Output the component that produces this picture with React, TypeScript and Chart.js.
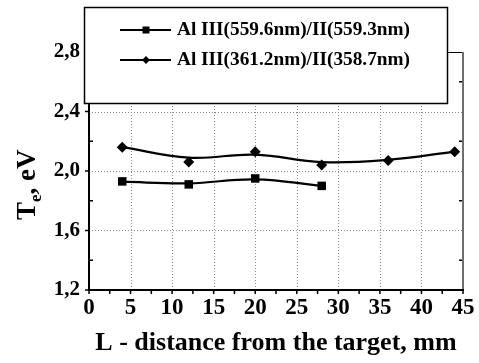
import React, { useEffect, useRef } from 'react';
import { Chart, registerables } from 'chart.js';

Chart.register(...registerables);

const FONT = '"Liberation Serif", "Times New Roman", Times, serif';

// ---- data ----
const series1Label = 'Al III(559.6nm)/II(559.3nm)';
const series1X = [4, 12, 20, 28];
const series1Values = [1.93, 1.91, 1.95, 1.9];
const series1Fit = [1.928, 1.917, 1.944, 1.9];

const series2Label = 'Al III(361.2nm)/II(358.7nm)';
const series2X = [4, 12, 20, 28, 36, 44];
const series2Values = [2.16, 2.06, 2.13, 2.04, 2.07, 2.13];
const series2Fit = [2.16, 2.09, 2.11, 2.06, 2.075, 2.13];

const xTicks = [0, 5, 10, 15, 20, 25, 30, 35, 40, 45];
const xMinorTicks = [2.5, 7.5, 12.5, 17.5, 22.5, 27.5, 32.5, 37.5, 42.5];
const yTicks = [1.2, 1.6, 2.0, 2.4, 2.8];
const yTickLabels = ['1,2', '1,6', '2,0', '2,4', '2,8'];
const yMinorTicks = [1.4, 1.8, 2.2, 2.6];

const xTitle = 'L - distance from the target, mm';

const pts = (xs: number[], ys: number[]) => xs.map((x, i) => ({ x, y: ys[i] }));

const framePlugin = {
  id: 'frame',
  beforeDatasetsDraw(chart: any) {
    const { ctx, chartArea: a, scales } = chart;
    const xs = scales.x, ys = scales.y;
    ctx.save();
    ctx.strokeStyle = '#8a8a8a';
    ctx.lineWidth = 1;
    ctx.setLineDash([1, 2]);
    xTicks.forEach((v) => {
      if (v <= xs.min || v >= xs.max) return;
      const px = Math.round(xs.getPixelForValue(v)) + 0.5;
      ctx.beginPath();
      ctx.moveTo(px, a.top);
      ctx.lineTo(px, a.bottom);
      ctx.stroke();
    });
    yTicks.forEach((v) => {
      if (v <= ys.min || v >= ys.max) return;
      const py = Math.round(ys.getPixelForValue(v)) + 0.5;
      ctx.beginPath();
      ctx.moveTo(a.left, py);
      ctx.lineTo(a.right, py);
      ctx.stroke();
    });
    ctx.restore();
  },
  afterDatasetsDraw(chart: any) {
    const { ctx, chartArea: a, scales } = chart;
    const xs = scales.x, ys = scales.y;
    ctx.save();
    ctx.setLineDash([]);
    ctx.strokeStyle = '#000';
    ctx.lineWidth = 1.5;
    [...xTicks, ...xMinorTicks].forEach((v) => {
      const px = xs.getPixelForValue(v);
      ctx.beginPath();
      ctx.moveTo(px, a.bottom);
      ctx.lineTo(px, a.bottom + 4);
      ctx.stroke();
    });
    yTicks.forEach((v) => {
      const py = ys.getPixelForValue(v);
      ctx.beginPath();
      ctx.moveTo(a.left - 4, py);
      ctx.lineTo(a.left, py);
      ctx.stroke();
    });
    yMinorTicks.forEach((v) => {
      const py = ys.getPixelForValue(v);
      ctx.beginPath();
      ctx.moveTo(a.left, py);
      ctx.lineTo(a.left + 4, py);
      ctx.stroke();
      ctx.beginPath();
      ctx.moveTo(a.right - 4, py);
      ctx.lineTo(a.right, py);
      ctx.stroke();
    });
    ctx.lineWidth = 1;
    ctx.beginPath();
    ctx.moveTo(a.left, a.top + 0.5);
    ctx.lineTo(a.right, a.top + 0.5);
    ctx.stroke();
    ctx.strokeStyle = '#6e6e6e';
    ctx.lineWidth = 2;
    ctx.beginPath();
    ctx.moveTo(a.right, a.top);
    ctx.lineTo(a.right, a.bottom);
    ctx.stroke();
    ctx.strokeStyle = '#000';
    ctx.lineWidth = 2;
    ctx.beginPath();
    ctx.moveTo(a.left, a.top);
    ctx.lineTo(a.left, a.bottom);
    ctx.lineTo(a.right + 1, a.bottom);
    ctx.stroke();
    ctx.restore();
  },
  afterDraw(chart: any) {
    const { ctx } = chart;
    ctx.save();
    ctx.fillStyle = '#fff';
    ctx.fillRect(84, 7, 364, 97);
    ctx.strokeStyle = '#000';
    ctx.lineWidth = 1.5;
    ctx.strokeRect(84.5, 7.5, 363, 96);
    const items = [
      { label: chart.data.datasets[0].label, style: 'rect', y: 30 },
      { label: chart.data.datasets[1].label, style: 'rectRot', y: 60 },
    ];
    items.forEach((it) => {
      ctx.strokeStyle = '#000';
      ctx.lineWidth = 2;
      ctx.beginPath();
      ctx.moveTo(120, it.y);
      ctx.lineTo(171, it.y);
      ctx.stroke();
      ctx.fillStyle = '#000';
      const cx = 146;
      if (it.style === 'rect') {
        ctx.fillRect(cx - 3.5, it.y - 3.5, 7, 7);
      } else {
        ctx.beginPath();
        ctx.moveTo(cx - 4, it.y);
        ctx.lineTo(cx, it.y - 4);
        ctx.lineTo(cx + 4, it.y);
        ctx.lineTo(cx, it.y + 4);
        ctx.closePath();
        ctx.fill();
      }
      ctx.font = `bold 19.3px ${FONT}`;
      ctx.textAlign = 'left';
      ctx.textBaseline = 'middle';
      ctx.fillText(it.label, 177, it.y);
    });
    ctx.translate(35, 220);
    ctx.rotate(-Math.PI / 2);
    ctx.fillStyle = '#000';
    ctx.textAlign = 'left';
    ctx.textBaseline = 'alphabetic';
    ctx.font = `bold 27px ${FONT}`;
    ctx.fillText('T', 0, 0);
    let w = ctx.measureText('T').width;
    ctx.font = `bold 17px ${FONT}`;
    ctx.fillText('e', w, 6);
    w += ctx.measureText('e').width;
    ctx.font = `bold 27px ${FONT}`;
    ctx.fillText(', eV', w, 0);
    ctx.restore();
  },
};

export default function App() {
  const ref = useRef<HTMLCanvasElement | null>(null);
  useEffect(() => {
    document.body.style.margin = '0';
    if (!ref.current) return;
    const chart = new Chart(ref.current, {
      type: 'line',
      data: {
        datasets: [
          {
            label: series1Label,
            data: pts(series1X, series1Values),
            showLine: false,
            pointStyle: 'rect',
            pointRadius: 6,
            backgroundColor: '#000',
            borderColor: '#000',
            borderWidth: 0,
            order: 0,
          },
          {
            label: series2Label,
            data: pts(series2X, series2Values),
            showLine: false,
            pointStyle: 'rectRot',
            pointRadius: 5.5,
            backgroundColor: '#000',
            borderColor: '#000',
            borderWidth: 0,
            order: 0,
          },
          {
            label: series1Label + ' fit',
            data: pts(series1X, series1Fit),
            borderColor: '#000',
            borderWidth: 2.2,
            pointRadius: 0,
            tension: 0.4,
            fill: false,
            order: 1,
          },
          {
            label: series2Label + ' fit',
            data: pts(series2X, series2Fit),
            borderColor: '#000',
            borderWidth: 2.2,
            pointRadius: 0,
            tension: 0.4,
            fill: false,
            order: 1,
          },
        ],
      },
      options: {
        animation: false,
        responsive: false,
        layout: { padding: { top: 52, right: 16, left: 0, bottom: 0 } },
        plugins: { legend: { display: false }, tooltip: { enabled: false } },
        scales: {
          x: {
            type: 'linear',
            min: 0,
            max: 45,
            afterBuildTicks: (s: any) => {
              s.ticks = xTicks.map((v) => ({ value: v }));
            },
            afterFit: (s: any) => {
              s.height = 73;
            },
            grid: { display: false, drawTicks: false },
            border: { display: false },
            ticks: {
              color: '#000',
              font: { family: FONT, size: 23, weight: 'bold' },
              padding: 4,
              maxRotation: 0,
              autoSkip: false,
            },
            title: {
              display: true,
              text: xTitle,
              color: '#000',
              font: { family: FONT, size: 26, weight: 'bold' },
              padding: { top: 0, bottom: 4 },
            },
          },
          y: {
            type: 'linear',
            min: 1.2,
            max: 2.8,
            afterBuildTicks: (s: any) => {
              s.ticks = yTicks.map((v) => ({ value: v }));
            },
            afterFit: (s: any) => {
              s.width = 89;
            },
            grid: { display: false, drawTicks: false },
            border: { display: false },
            ticks: {
              color: '#000',
              font: { family: FONT, size: 21, weight: 'bold' },
              padding: 9,
              autoSkip: false,
              callback: (_v: any, i: number) => yTickLabels[i],
            },
          },
        },
      },
      plugins: [framePlugin],
    } as any);
    return () => chart.destroy();
  }, []);
  return (
    <div style={{ width: 479, height: 363 }}>
      <canvas ref={ref} width={479} height={363} />
    </div>
  );
}
